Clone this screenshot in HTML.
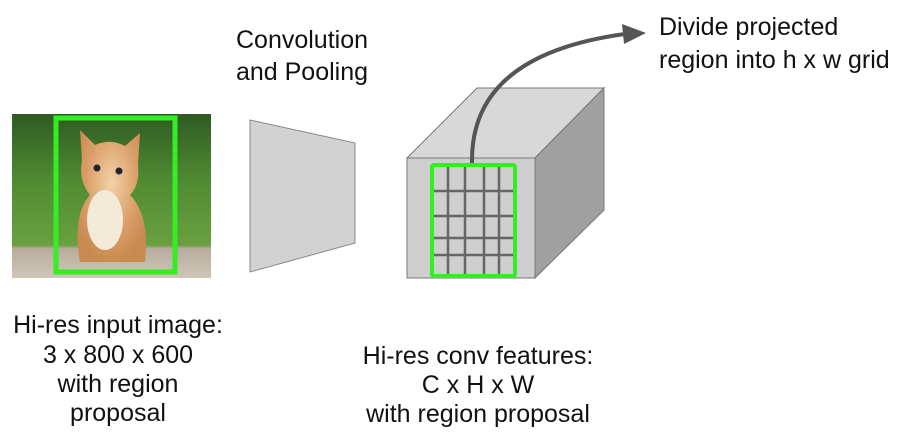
<!DOCTYPE html>
<html><head><style>
body{margin:0;background:#fff;width:904px;height:443px;overflow:hidden}
svg text{font-family:"Liberation Sans",sans-serif;font-size:25px;fill:#111}
</style></head><body>
<svg width="904" height="443" viewBox="0 0 904 443">
<defs>
<linearGradient id="bg" x1="0" y1="0" x2="0" y2="1">
<stop offset="0" stop-color="#2f5a22"/><stop offset="0.4" stop-color="#4f8a32"/><stop offset="0.8" stop-color="#6aa040"/><stop offset="0.82" stop-color="#b8ad9c"/><stop offset="1" stop-color="#cfc6b8"/>
</linearGradient>
<radialGradient id="cat" cx="0.5" cy="0.4" r="0.6">
<stop offset="0" stop-color="#f2d2a8"/><stop offset="0.6" stop-color="#dba06a"/><stop offset="1" stop-color="#c98a50"/>
</radialGradient>
</defs>
<rect x="12" y="114" width="199" height="164" fill="url(#bg)"/>
<path d="M80 262 Q72 215 90 195 Q78 180 82 160 L80 130 L95 145 Q110 138 125 146 L140 133 L138 165 Q140 185 130 195 Q150 215 145 262 Z" fill="url(#cat)"/>
<ellipse cx="105" cy="220" rx="18" ry="30" fill="#f4ead8"/>
<circle cx="97" cy="168" r="3.5" fill="#223"/><circle cx="119" cy="171" r="3.5" fill="#223"/>
<rect x="56" y="118" width="119" height="154" fill="none" stroke="#33ee22" stroke-width="5"/>
<polygon points="250,120 355,143 355,243 250,272" fill="#d2d2d2" stroke="#888" stroke-width="1"/>
<polygon points="407,158 477,88 604,88 535,158" fill="#d8d8d8" stroke="#777" stroke-width="1"/>
<polygon points="535,158 604,88 604,210 535,278" fill="#a0a0a0" stroke="#777" stroke-width="1"/>
<rect x="407" y="158" width="128" height="120" fill="#cfcfcf" stroke="#777" stroke-width="1"/>
<g stroke="#666" stroke-width="2.5">
<line x1="448" y1="167" x2="448" y2="274"/><line x1="465" y1="167" x2="465" y2="274"/>
<line x1="484" y1="167" x2="484" y2="274"/><line x1="499" y1="167" x2="499" y2="274"/>
<line x1="434" y1="191" x2="513" y2="191"/><line x1="434" y1="216" x2="513" y2="216"/>
<line x1="434" y1="238" x2="513" y2="238"/><line x1="434" y1="255" x2="513" y2="255"/>
</g>
<rect x="432" y="165" width="83" height="111" rx="2" fill="none" stroke="#33ee22" stroke-width="4"/>
<path d="M472 163 Q470 55 625 34" fill="none" stroke="#555" stroke-width="4"/>
<polygon points="622,24 646,33 624,44" fill="#555"/>
<text x="302" y="48" text-anchor="middle">Convolution</text>
<text x="302" y="80" text-anchor="middle">and Pooling</text>
<text x="659" y="35">Divide projected</text>
<text x="659" y="68">region into h x w grid</text>
<g style="font-size:23.5px">
<text x="118" y="333" text-anchor="middle">Hi-res input image:</text>
<text x="118" y="363" text-anchor="middle">3 x 800 x 600</text>
<text x="118" y="392" text-anchor="middle">with region</text>
<text x="118" y="421" text-anchor="middle">proposal</text>
</g>
<g style="font-size:26px">
<text x="478" y="364" text-anchor="middle">Hi-res conv features:</text>
<text x="478" y="393" text-anchor="middle">C x H x W</text>
<text x="478" y="422" text-anchor="middle">with region proposal</text>
</g>
</svg>
</body></html>
